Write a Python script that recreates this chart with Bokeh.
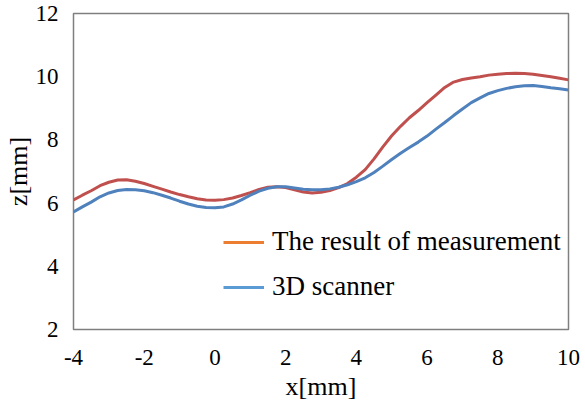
from bokeh.plotting import figure
from bokeh.models import Range1d, FixedTicker, Legend, LegendItem
from bokeh.embed import file_html
from bokeh.resources import INLINE

x_mm = [-4, -3.75, -3.5, -3.25, -3, -2.75, -2.5, -2.25, -2, -1.75, -1.5, -1.25,
        -1, -0.75, -0.5, -0.25, 0, 0.25, 0.5, 0.75, 1, 1.25, 1.5, 1.75,
        2, 2.25, 2.5, 2.75, 3, 3.25, 3.5, 3.75, 4, 4.25, 4.5, 4.75,
        5, 5.25, 5.5, 5.75, 6, 6.25, 6.5, 6.75, 7, 7.25, 7.5, 7.75,
        8, 8.25, 8.5, 8.75, 9, 9.25, 9.5, 9.75, 10]
z_measure = [6.10, 6.25, 6.39, 6.55, 6.66, 6.73, 6.74, 6.69, 6.62, 6.53, 6.44, 6.35,
             6.27, 6.20, 6.14, 6.10, 6.09, 6.11, 6.16, 6.24, 6.33, 6.43, 6.50, 6.52,
             6.49, 6.42, 6.35, 6.32, 6.34, 6.40, 6.49, 6.62, 6.82, 7.06, 7.40, 7.78,
             8.13, 8.43, 8.70, 8.93, 9.18, 9.42, 9.66, 9.83, 9.91, 9.96, 10.00, 10.05,
             10.08, 10.10, 10.11, 10.10, 10.08, 10.04, 10.00, 9.95, 9.90]
z_scanner = [5.72, 5.88, 6.03, 6.20, 6.32, 6.40, 6.43, 6.42, 6.39, 6.33, 6.25, 6.16,
             6.06, 5.97, 5.90, 5.86, 5.85, 5.88, 5.97, 6.10, 6.25, 6.38, 6.47, 6.52,
             6.52, 6.48, 6.44, 6.42, 6.42, 6.45, 6.50, 6.58, 6.68, 6.80, 6.97, 7.17,
             7.38, 7.58, 7.76, 7.93, 8.12, 8.34, 8.55, 8.77, 8.98, 9.18, 9.33, 9.47,
             9.56, 9.63, 9.68, 9.71, 9.72, 9.69, 9.65, 9.62, 9.58]
x_ticks = [-4, -2, 0, 2, 4, 6, 8, 10]
x_tick_labels = ["-4", "-2", "0", "2", "4", "6", "8", "10"]
y_ticks = [2, 4, 6, 8, 10, 12]
legend_labels = ["The result of measurement", "3D scanner"]

FONT = "Liberation Serif"

p = figure(width=577, height=399, output_backend="svg", toolbar_location=None,
           x_range=Range1d(-4, 10), y_range=Range1d(2, 12),
           min_border_left=68, min_border_right=14, min_border_top=13, min_border_bottom=70)
p.frame_width = 495
p.frame_height = 316

p.xgrid.visible = False
p.ygrid.visible = False
p.outline_line_color = "#7f7f7f"
p.outline_line_width = 1.5

for ax in (p.xaxis[0], p.yaxis[0]):
    ax.axis_line_color = None
    ax.major_tick_line_color = None
    ax.minor_tick_line_color = None
    ax.major_label_text_font = FONT
    ax.major_label_text_font_size = "23px"
    ax.major_label_text_color = "black"
    ax.axis_label_text_font = FONT
    ax.axis_label_text_font_size = "26px"
    ax.axis_label_text_font_style = "normal"
    ax.axis_label_text_color = "black"

p.xaxis.ticker = FixedTicker(ticks=x_ticks)
p.xaxis.major_label_overrides = {t: s for t, s in zip(x_ticks, x_tick_labels)}
p.yaxis.ticker = FixedTicker(ticks=y_ticks)
p.xaxis.major_label_standoff = 14
p.yaxis.major_label_standoff = 9
p.xaxis.axis_label = "x[mm]"
p.yaxis.axis_label = "z[mm]"
p.xaxis.axis_label_standoff = 4
p.yaxis.axis_label_standoff = 0

p.line(x_mm, z_measure, line_color="#c0504d", line_width=3)
p.line(x_mm, z_scanner, line_color="#4f81bd", line_width=3)

nan = float("nan")
r1 = p.line([nan], [nan], line_color="#ed7d31", line_width=3)
r2 = p.line([nan], [nan], line_color="#5b9bd5", line_width=3)

legend = Legend(items=[LegendItem(label=legend_labels[0], renderers=[r1]),
                       LegendItem(label=legend_labels[1], renderers=[r2])],
                location=(150, 27), orientation="vertical",
                border_line_color=None, background_fill_alpha=0,
                padding=0, margin=0, spacing=14,
                glyph_width=41, glyph_height=30, label_height=30,
                label_standoff=8, label_text_font=FONT,
                label_text_font_size="27px", label_text_color="black")
p.add_layout(legend, "center")

open("out.html", "w").write(file_html(p, INLINE))
